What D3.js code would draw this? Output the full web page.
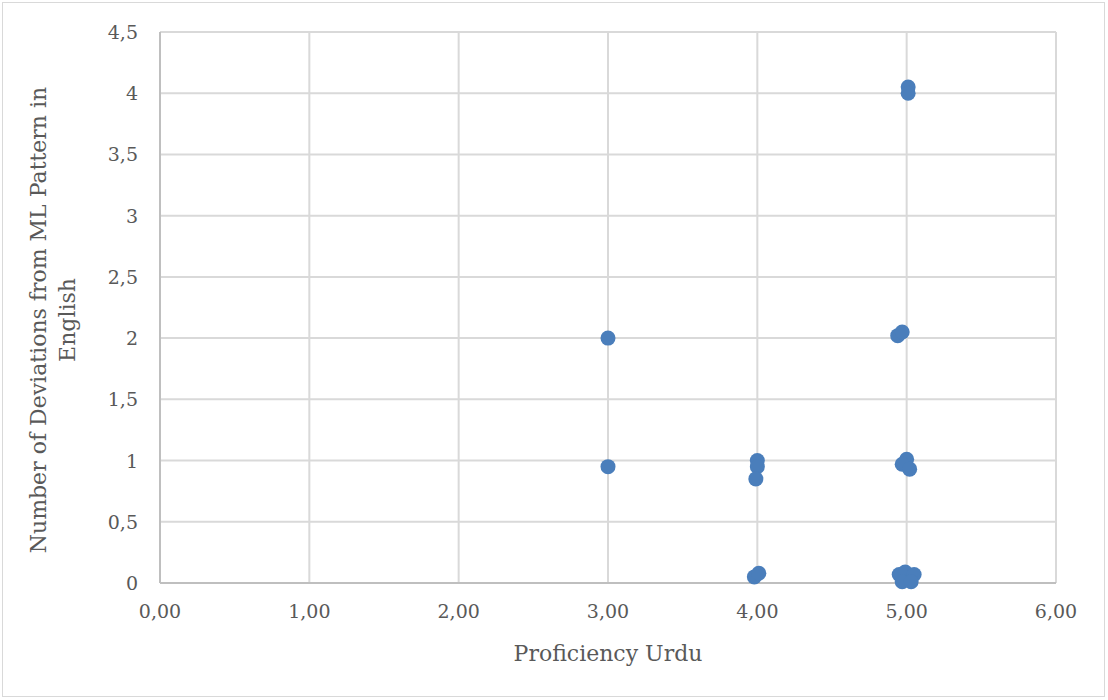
<!DOCTYPE html>
<html><head><meta charset="utf-8">
<script src="https://cdn.jsdelivr.net/npm/d3@7"></script>
<style>body{margin:0;background:#fff}svg{display:block}</style>
</head><body>
<svg id="c" width="1108" height="700"></svg>
<script>
const xValues = [3.00, 3.00, 4.00, 4.00, 3.99, 3.98, 4.01, 5.01, 5.01, 4.94, 4.97, 5.00, 4.97, 5.02, 4.95, 4.99, 5.05, 4.97, 5.03];
const yValues = [2.00, 0.95, 1.00, 0.95, 0.85, 0.05, 0.08, 4.05, 4.00, 2.02, 2.05, 1.01, 0.97, 0.93, 0.07, 0.09, 0.07, 0.01, 0.01];
const xTicks = [0, 1, 2, 3, 4, 5, 6];
const yTicks = [0, 0.5, 1, 1.5, 2, 2.5, 3, 3.5, 4, 4.5];
const xTitle = "Proficiency Urdu";
const yTitleLines = ["Number of Deviations from ML Pattern in", "English"];

const svg = d3.select("#c");
const font = "'DejaVu Serif', serif";
const tc = "#595959";
svg.append("rect").attr("x",2.5).attr("y",2.5).attr("width",1102).attr("height",694)
  .attr("fill","#fff").attr("stroke","#d9d9d9");

const x = d3.scaleLinear().domain([0,6]).range([160,1056]);
const y = d3.scaleLinear().domain([0,4.5]).range([583,32]);
const fmtX = v => d3.format(".2f")(v).replace(".", ",");
const fmtY = v => String(v).replace(".", ",");

// gridlines
svg.append("g").selectAll("line").data(xTicks.slice(1)).join("line")
  .attr("x1",d=>x(d)).attr("x2",d=>x(d)).attr("y1",y(0)).attr("y2",y(4.5))
  .attr("stroke","#d9d9d9").attr("stroke-width",2);
svg.append("g").selectAll("line").data(yTicks.slice(1)).join("line")
  .attr("x1",x(0)).attr("x2",x(6)).attr("y1",d=>y(d)).attr("y2",d=>y(d))
  .attr("stroke","#d9d9d9").attr("stroke-width",2);
// axes lines
svg.append("line").attr("x1",x(0)).attr("x2",x(6)).attr("y1",y(0)).attr("y2",y(0)).attr("stroke","#bfbfbf").attr("stroke-width",2);
svg.append("line").attr("x1",x(0)).attr("x2",x(0)).attr("y1",y(0)).attr("y2",y(4.5)).attr("stroke","#bfbfbf").attr("stroke-width",2);

// tick labels
svg.append("g").selectAll("text").data(xTicks).join("text")
  .attr("x",d=>x(d)).attr("y",618).attr("text-anchor","middle")
  .attr("font-family",font).attr("font-size",19).attr("fill",tc).text(fmtX);
svg.append("g").selectAll("text").data(yTicks).join("text")
  .attr("x",138).attr("y",d=>y(d)+7).attr("text-anchor","end")
  .attr("font-family",font).attr("font-size",19).attr("fill",tc).text(fmtY);

// titles
svg.append("text").attr("x",608).attr("y",661).attr("text-anchor","middle")
  .attr("font-family",font).attr("font-size",22).attr("fill",tc).text(xTitle);
const yt = svg.append("text").attr("transform","translate(0,320) rotate(-90)")
  .attr("text-anchor","middle").attr("font-family",font).attr("font-size",22).attr("fill",tc);
yTitleLines.forEach((l,i)=>yt.append("tspan").attr("x",0).attr("y",46+i*29).text(l));

// points
const pts = xValues.map((v,i)=>({x:v,y:yValues[i]}));
svg.append("g").selectAll("circle").data(pts).join("circle")
  .attr("cx",d=>x(d.x)).attr("cy",d=>y(d.y)).attr("r",7.5)
  .attr("fill","#4a7ebb");
</script>
</body></html>
